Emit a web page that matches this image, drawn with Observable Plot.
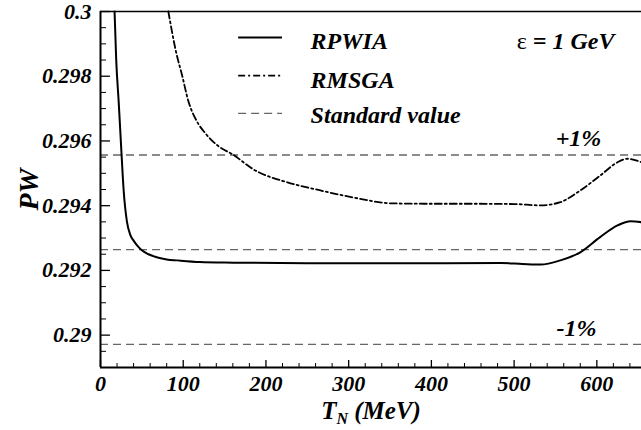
<!DOCTYPE html>
<html><head><meta charset="utf-8">
<script src="https://cdn.jsdelivr.net/npm/d3@7"></script>
<script src="https://cdn.jsdelivr.net/npm/@observablehq/plot@0.6"></script>
<style>
body{margin:0;background:#fff;}
#chart svg{overflow:visible;}
</style></head><body><div id="chart"></div>
<script>
// ---- data ----
const rpwiaT  = [17, 19, 22, 25, 28, 32, 36, 40, 45, 50, 58, 69, 80, 93, 120, 161, 250, 350, 484, 510, 532, 556, 580, 604, 625, 641, 654];
const rpwiaPW = [0.3000, 0.2985, 0.2972, 0.2958, 0.29447, 0.29350, 0.29310, 0.29292, 0.29275, 0.29262, 0.29250, 0.29240, 0.29234, 0.29231, 0.29226, 0.29224, 0.29222, 0.29222, 0.29223, 0.29220, 0.29218, 0.29231, 0.29256, 0.29303, 0.29339, 0.29352, 0.29349];
const rmsgaT  = [82, 91, 99, 106, 116, 127, 143, 160, 185, 226, 266, 306, 354, 400, 450, 500, 532, 556, 580, 604, 625, 637, 654];
const rmsgaPW = [0.3000, 0.29879, 0.29799, 0.29725, 0.29663, 0.29623, 0.29583, 0.29558, 0.29512, 0.29472, 0.29447, 0.29425, 0.29407, 0.29406, 0.29406, 0.29405, 0.29401, 0.29411, 0.29447, 0.29493, 0.29534, 0.29545, 0.29534];
const standardValue = 0.29264;
const bandLabels = ["+1%", "-1%"];
const seriesNames = ["RPWIA", "RMSGA", "Standard value"];
const energyLabel = "ε = 1 GeV";
const xTicks = [0, 100, 200, 300, 400, 500, 600];
const xTickLabels = ["0", "100", "200", "300", "400", "500", "600"];
const yTicks = [0.29, 0.292, 0.294, 0.296, 0.298, 0.3];
const yTickLabels = ["0.29", "0.292", "0.294", "0.296", "0.298", "0.3"];
const xLabel = "T";
const xLabelSub = "N";
const xLabelUnit = " (MeV)";
const yLabel = "PW";

// ---- tables built from the arrays ----
const rpwia = rpwiaT.map((t, i) => ({T: t, PW: rpwiaPW[i]}));
const rmsga = rmsgaT.map((t, i) => ({T: t, PW: rmsgaPW[i]}));
const refLines = [standardValue * 1.01, standardValue, standardValue * 0.99];
const xMinor = d3.range(0, 660, 20).filter(d => d % 100 !== 0);
const yMinor = d3.range(0, 23).map(i => 0.289 + i * 0.0005).filter(d => Math.abs(d * 500 - Math.round(d * 500)) > 1e-6);

// layout
const W = 641, H = 430, mL = 100, mR = 0, mT = 11, mB = 63;
const frameW = W - mL - mR, frameH = H - mT - mB;
const dashStd = "8,5", dashDot = "7,3,2,3";
const serif = "Liberation Serif";
const txt = {fontWeight: "bold", fontStyle: "italic", fill: "black", fontFamily: serif};

// legend / annotation positions (data units)
const legendY = [0.29920, 0.29802, 0.29685];
const legendTextY = [0.29907, 0.29787, 0.29679];
const legendRows = seriesNames.map((n, i) => ({name: n, y: legendY[i], ty: legendTextY[i]}));

const plot = Plot.plot({
  width: W, height: H,
  marginLeft: mL, marginRight: mR, marginTop: mT, marginBottom: mB,
  x: {domain: [0, 654]},
  y: {domain: [0.289, 0.3]},
  style: {background: "white", fontFamily: serif},
  marks: [
    Plot.ruleY(refLines, {stroke: "#666", strokeWidth: 1.3, strokeDasharray: dashStd}),
    Plot.line(rmsga, {x: "T", y: "PW", stroke: "black", strokeWidth: 1.8, strokeDasharray: dashDot, curve: "monotone-x"}),
    Plot.line(rpwia, {x: "T", y: "PW", stroke: "black", strokeWidth: 2, curve: "monotone-x"}),
    Plot.ruleX([0], {stroke: "black", strokeWidth: 2}),
    Plot.ruleY([0.289], {stroke: "black", strokeWidth: 2}),
    Plot.ruleY([0.3], {stroke: "black", strokeWidth: 1.5}),
    Plot.tickY(yTicks, {y: d => d, insetRight: frameW - 10, stroke: "black", strokeWidth: 1.3}),
    Plot.tickY(yMinor, {y: d => d, insetRight: frameW - 6, stroke: "black", strokeWidth: 1}),
    Plot.tickX(xTicks, {x: d => d, insetTop: frameH - 7, stroke: "black", strokeWidth: 1.3}),
    Plot.tickX(xMinor, {x: d => d, insetTop: frameH - 4, stroke: "black", strokeWidth: 1}),
    Plot.axisY(yTicks, {tickSize: 0, tickPadding: 9, tickFormat: (d, i) => yTickLabels[i], fontSize: 22, ...txt, label: null}),
    Plot.axisX(xTicks, {tickSize: 0, tickPadding: 8, tickFormat: (d, i) => xTickLabels[i], fontSize: 22, ...txt, label: null}),
    Plot.text([xLabel], {frameAnchor: "bottom", textAnchor: "middle", lineAnchor: "bottom", dy: 51, fontSize: 25, ...txt}),
    Plot.text([yLabel], {frameAnchor: "left", textAnchor: "middle", lineAnchor: "middle", rotate: -90, dx: -71, fontSize: 28, ...txt}),
    // legend
    Plot.ruleY([legendRows[0]], {y: "y", x1: 167, x2: 220, stroke: "black", strokeWidth: 2}),
    Plot.ruleY([legendRows[1]], {y: "y", x1: 167, x2: 220, stroke: "black", strokeWidth: 1.8, strokeDasharray: dashDot}),
    Plot.ruleY([legendRows[2]], {y: "y", x1: 167, x2: 220, stroke: "#666", strokeWidth: 1.3, strokeDasharray: dashStd}),
    Plot.text(legendRows, {x: 254, y: "ty", text: "name", textAnchor: "start", lineAnchor: "middle", fontSize: 24, ...txt}),
    Plot.text([energyLabel], {x: 621.4, y: 0.29907, textAnchor: "end", lineAnchor: "middle", fontSize: 24, ...txt}),
    Plot.text([bandLabels[0]], {x: 577.8, y: 0.29608, textAnchor: "middle", lineAnchor: "middle", fontSize: 24, ...txt}),
    Plot.text([bandLabels[1]], {x: 575.4, y: 0.29020, textAnchor: "middle", lineAnchor: "middle", fontSize: 24, ...txt})
  ]
});
document.getElementById("chart").appendChild(plot);

const svg = d3.select(plot);
const texts = svg.selectAll("text");
texts.style("font-family", "'Liberation Serif', serif");
// subscript in x title
const xt = texts.filter(function() { return this.textContent === xLabel; });
xt.text(null);
xt.append("tspan").text(xLabel);
xt.append("tspan").attr("font-size", 16).attr("dy", 5).text(xLabelSub);
xt.append("tspan").attr("dy", -5).text(xLabelUnit);
// upright epsilon
const et = texts.filter(function() { return this.textContent === energyLabel; });
et.text(null);
et.append("tspan").attr("font-style", "normal").attr("font-weight", "normal").text(energyLabel[0]);
et.append("tspan").text(energyLabel.slice(1));
</script></body></html>
